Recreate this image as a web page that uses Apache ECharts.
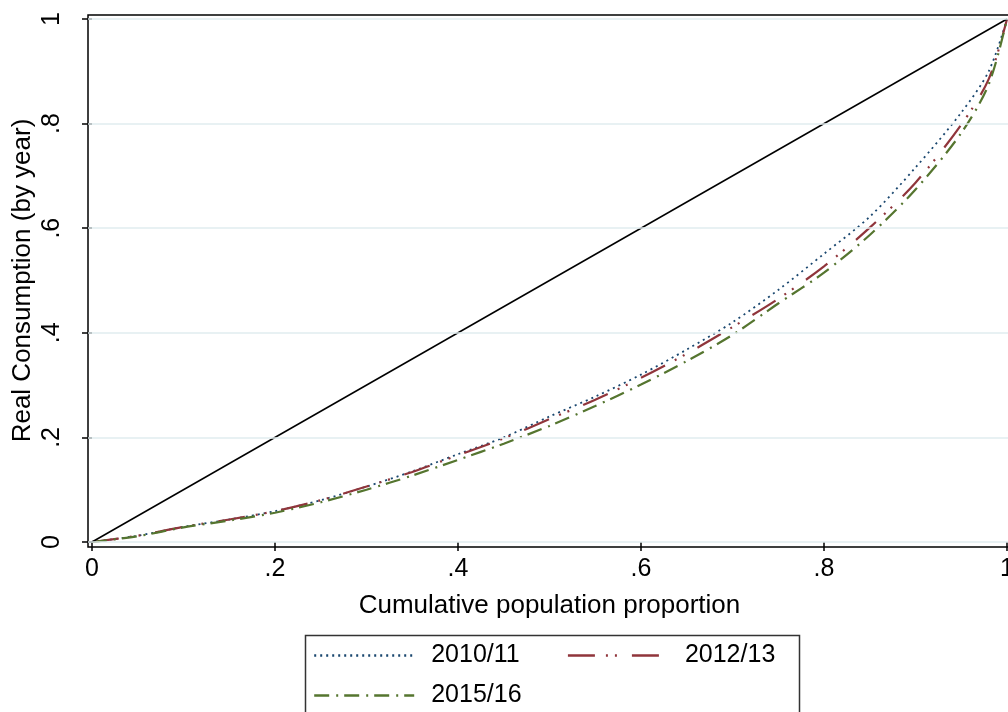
<!DOCTYPE html>
<html>
<head>
<meta charset="utf-8">
<script src="https://cdn.jsdelivr.net/npm/echarts@6/dist/echarts.min.js"></script>
<style>html,body{margin:0;padding:0;background:#fff}#c{width:1008px;height:712px}</style>
</head>
<body>
<div id="c"></div>
<script>
// ---- data ----
const population = [0, .05, .1, .15, .2, .25, .3, .35, .4, .45, .5, .55, .6, .65, .7, .75, .8, .85, .9, .95, .98, 1];
const share2010 = [0, .012, .029, .043, .059, .080, .106, .135, .168, .200, .240, .278, .320, .368, .420, .482, .551, .622, .716, .821, .900, 1];
const share2012 = [0, .012, .029, .043, .059, .080, .106, .134, .166, .198, .235, .272, .314, .360, .411, .465, .527, .601, .687, .798, .885, 1];
const share2015 = [0, .011, .028, .041, .056, .076, .100, .127, .157, .188, .222, .260, .301, .346, .396, .456, .515, .587, .674, .782, .875, 1];
const equality = [[0, 0], [1, 1]];
const tickValues = [0, .2, .4, .6, .8, 1];
const tickLabels = ['0', '.2', '.4', '.6', '.8', '1'];
const seriesNames = ['2010/11', '2012/13', '2015/16'];

const pairs = ys => population.map((x, i) => [x, ys[i]]);
const FONT = '"Liberation Sans", Arial, Helvetica, sans-serif';
const fmt = (v) => tickLabels[tickValues.findIndex(t => Math.abs(t - v) < 1e-6)];

const chart = echarts.init(document.getElementById('c'), null, {renderer: 'canvas'});
chart.setOption({
  backgroundColor: '#fff',
  animation: false,
  textStyle: {fontFamily: FONT},
  grid: [
    {left: 92, top: 19, width: 915, height: 523, show: false, containLabel: false, outerBoundsMode: 'none'},
    {left: 88, top: 15, width: 922, height: 532, show: true, borderColor: '#000', borderWidth: 1.5,
     backgroundColor: 'transparent', z: 3, containLabel: false, outerBoundsMode: 'none'}
  ],
  xAxis: [
    {
      type: 'value', gridIndex: 0, min: 0, max: 1, interval: 0.2, offset: 5,
      axisLine: {show: false},
      axisTick: {show: true, length: 9, lineStyle: {color: '#000', width: 1.5}},
      axisLabel: {margin: 10, fontSize: 25, color: '#000', fontFamily: FONT, formatter: fmt},
      splitLine: {show: false},
      name: 'Cumulative population proportion', nameLocation: 'middle', nameGap: 46,
      nameTextStyle: {fontSize: 26, color: '#000', fontFamily: FONT}
    },
    {type: 'value', gridIndex: 1, min: -4 / 915, max: -4 / 915 + 922 / 915, show: false}
  ],
  yAxis: [
    {
      type: 'value', gridIndex: 0, min: 0, max: 1, interval: 0.2, offset: 4,
      axisLine: {show: false},
      axisTick: {show: true, length: 10, lineStyle: {color: '#000', width: 1.5}},
      axisLabel: {margin: 23, fontSize: 25, color: '#000', rotate: 90, fontFamily: FONT, formatter: fmt},
      splitLine: {show: false},
      name: 'Real Consumption (by year)', nameLocation: 'middle', nameGap: 52, nameRotate: 90,
      nameMoveOverlap: false,
      nameTextStyle: {fontSize: 26, color: '#000', fontFamily: FONT}
    },
    {type: 'value', gridIndex: 1, min: -5 / 523, max: 1 + 4 / 523, show: false}
  ],
  legend: [
    {
      data: [seriesNames[0], seriesNames[1]], left: 313, top: 643, orient: 'horizontal',
      itemWidth: 100, itemHeight: 26, itemGap: 47, padding: 0,
      itemStyle: {opacity: 0, borderWidth: 0},
      lineStyle: {width: 2.4},
      textStyle: {fontSize: 25, color: '#000', fontFamily: FONT, padding: [0, 0, 0, 12]}
    },
    {
      data: [seriesNames[2]], left: 313, top: 683, orient: 'horizontal',
      itemWidth: 100, itemHeight: 26, itemGap: 47, padding: 0,
      itemStyle: {opacity: 0, borderWidth: 0},
      lineStyle: {width: 2.4},
      textStyle: {fontSize: 25, color: '#000', fontFamily: FONT, padding: [0, 0, 0, 12]}
    }
  ],
  graphic: [
    {type: 'rect', left: 303, top: 633, shape: {width: 494, height: 120}, style: {fill: 'none', stroke: '#333', lineWidth: 1.5}, silent: true}
  ],
  series: [
    {
      name: 'grid', type: 'line', xAxisIndex: 1, yAxisIndex: 1, data: [], silent: true, z: 1,
      markLine: {
        silent: true, symbol: 'none', label: {show: false},
        lineStyle: {color: '#e1ecef', width: 1.5, type: 'solid'},
        data: tickValues.map(v => ({yAxis: v}))
      }
    },
    {
      name: seriesNames[0], type: 'line', data: pairs(share2010), smooth: 0.3, showSymbol: false, symbol: 'none', z: 4,
      lineStyle: {color: '#1a476f', width: 1.8, type: [2, 4], cap: 'butt'}, itemStyle: {color: '#1a476f'}
    },
    {
      name: seriesNames[1], type: 'line', data: pairs(share2012), smooth: 0.3, showSymbol: false, symbol: 'none', z: 4,
      lineStyle: {color: '#90353b', width: 2.2, type: [27, 11, 2, 7, 2, 15], cap: 'butt'}, itemStyle: {color: '#90353b'}
    },
    {
      name: seriesNames[2], type: 'line', data: pairs(share2015), smooth: 0.3, showSymbol: false, symbol: 'none', z: 4,
      lineStyle: {color: '#55752f', width: 2.2, type: [15, 7, 2, 6], cap: 'butt'}, itemStyle: {color: '#55752f'}
    },
    {
      name: 'equality', type: 'line', data: equality, showSymbol: false, symbol: 'none', z: 4,
      lineStyle: {color: '#000', width: 1.5, type: 'solid'}
    }
  ]
});
</script>
</body>
</html>
